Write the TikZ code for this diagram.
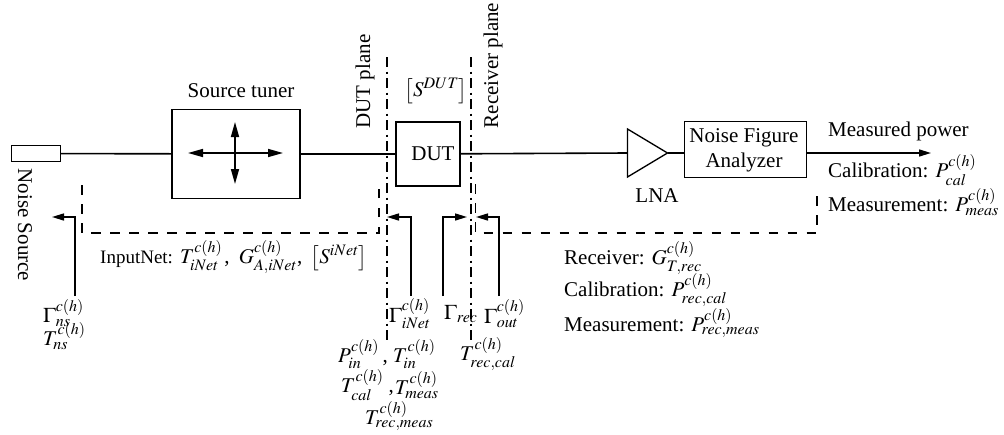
\documentclass[tikz,border=0pt]{standalone}
\usepackage{mathptmx}
\usepackage{fontspec}
\setmainfont{Liberation Serif}
\DeclareMathSizes{21}{21}{16}{12}
\usetikzlibrary{arrows.meta}
\tikzset{
  x=1pt,y=-1pt,
  wire/.style={line width=1.6pt},
  boxed/.style={draw,line width=1.6pt,inner sep=0pt,anchor=north west},
  lab/.style={font=\fontsize{21}{25}\selectfont,inner sep=0pt},
  tipwire/.style={line width=1.5pt,-{Triangle[length=12pt,width=7pt]}},
  crosstip/.style={line width=1.5pt,{Triangle[length=15pt,width=8pt]}-{Triangle[length=15pt,width=8pt]}},
  dashbox/.style={line width=1.6pt,dash pattern=on 9.5pt off 9.5pt},
  plane/.style={line width=1.2pt,dash pattern=on 10pt off 4.5pt on 2pt off 4.5pt},
}
\begin{document}
\begin{tikzpicture}
\useasboundingbox (0,0) rectangle (1004,434);
\node[boxed,minimum width=49pt,minimum height=16pt,line width=1.2pt] (ns) at (10.5,145) {};
\node[boxed,minimum width=128pt,minimum height=89pt] (tuner) at (171,108.5) {};
\node[boxed,minimum width=64pt,minimum height=64pt] (dut) at (395,121) {};
\node[boxed,minimum width=122.5pt,minimum height=56pt,line width=1.3pt] (nfa) at (683.5,121) {};
\coordinate (a1) at (627.5,129); \coordinate (a2) at (627.5,177); \coordinate (a3) at (667.5,153);
\draw[line width=1.3pt,line join=miter] (a1)--(a3)--(a2)--cycle;
\draw[wire] (ns.east)--(tuner.west);
\draw[wire] (tuner.east)--(dut.west);
\draw[wire] (dut.east)--(a1|-a3);
\draw[wire] (a3)--(nfa.west|-a3);
\coordinate (pw) at (931,153);
\draw[tipwire] (nfa.east|-a3)--(pw);
\coordinate (tl) at (188,153); \coordinate (tr) at (283,153);
\coordinate (tt) at (235,122); \coordinate (tb) at (235,184);
\draw[crosstip] (tl)--(tr);
\draw[crosstip] (tt)--(tb);
% planes
\coordinate (p1t) at (387,57); \coordinate (p1b) at (387,343);
\coordinate (p2t) at (471,57); \coordinate (p2b) at (471,343);
\draw[plane] (p1t)--(p1b);
\draw[plane] (p2t)--(p2b);
% dashed nets
\coordinate (d1) at (82,185); \coordinate (d2) at (82,233); \coordinate (d3) at (379,233); \coordinate (d4) at (379,184);
\draw[dashbox] (d1)--(d2)--(d3)--(d4);
\coordinate (e1) at (475.5,184); \coordinate (e2) at (475.5,233); \coordinate (e3) at (817,233); \coordinate (e4) at (817,190);
\draw[dashbox] (e1)--(e2)--(e3)--(e4);
% arrows
\coordinate (g1b) at (75,296); \coordinate (g1c) at (75,217); \coordinate (g1e) at (52,217);
\draw[tipwire] (g1b)--(g1c)--(g1e);
\coordinate (g2b) at (411,296); \coordinate (g2c) at (411,217); \coordinate (g2e) at (387,217);
\draw[tipwire] (g2b)--(g2c)--(g2e);
\coordinate (g3b) at (443,296); \coordinate (g3c) at (443,217); \coordinate (g3e) at (467,217);
\draw[tipwire] (g3b)--(g3c)--(g3e);
\coordinate (g4b) at (499,296); \coordinate (g4c) at (499,217); \coordinate (g4e) at (476,217);
\draw[tipwire] (g4b)--(g4c)--(g4e);
% labels
\node[lab] (tunerl) at (241,91) {Source tuner};
\node[lab,rotate=-90] (nsl) at (25,225) {Noise Source};
\node[lab,rotate=90] (dp) at (365,81.5) {DUT plane};
\node[lab,rotate=90] (rp) at (493,65.5) {Receiver plane};
\node[lab] (duttxt) at (433,154) {DUT};
\node[lab] (sd) at (436,91) {$\left[S^{DUT}\right]$};
\node[lab,align=center] (nfat) at (744,150.5) {Noise Figure\\Analyzer};
\node[lab] (lna) at (657,196) {LNA};
\node[lab,anchor=west] (mp) at (828,131) {Measured power};
\node[lab,anchor=west] (cal) at (828,170) {Calibration: $P_{cal}^{c(h)}$};
\node[lab,anchor=west] (mea) at (828,202) {Measurement: $P_{meas}^{c(h)}$};
\node[lab,anchor=west] (inp) at (100,257) {{\fontsize{19}{24}\selectfont InputNet:} $T_{iNet}^{c(h)}$\hspace{2pt}, \hspace{4pt}$G_{A,iNet}^{c(h)}$, \hspace{3pt}$\left[S^{iNet}\right]$};
\node[lab,anchor=west] (r1) at (564,258) {Receiver: $G_{T,rec}^{c(h)}$};
\node[lab,anchor=west] (r2) at (564,290) {Calibration: $P_{rec,cal}^{c(h)}$};
\node[lab,anchor=west] (r3) at (564,323) {Measurement: $P_{rec,meas}^{c(h)}$};
\node[lab,anchor=west] (gn) at (43,313) {$\Gamma_{ns}^{c(h)}$};
\node[lab,anchor=west] (tn) at (43,336) {$T_{ns}^{c(h)}$};
\node[lab,anchor=west] (gi) at (389,314) {$\Gamma_{iNet}^{c(h)}$};
\node[lab,anchor=west] (gr) at (444,314) {$\Gamma_{rec}$};
\node[lab,anchor=west] (go) at (484,314) {$\Gamma_{out}^{c(h)}$};
\node[lab,anchor=west] (p1) at (338,354) {$P_{in}^{c(h)}$\,,};
\node[lab,anchor=west] (p1b) at (393,354) {$T_{in}^{c(h)}$};
\node[lab,anchor=west] (p2) at (341,385) {$T_{cal}^{c(h)}$\hspace{5pt},};
\node[lab,anchor=west] (p2b) at (395,385) {$T_{meas}^{c(h)}$};
\node[lab,anchor=west] (p3) at (365,416) {$T_{rec,meas}^{c(h)}$};
\node[lab,anchor=west] (trc) at (460,354) {$T_{rec,cal}^{c(h)}$};
\end{tikzpicture}
\end{document}
